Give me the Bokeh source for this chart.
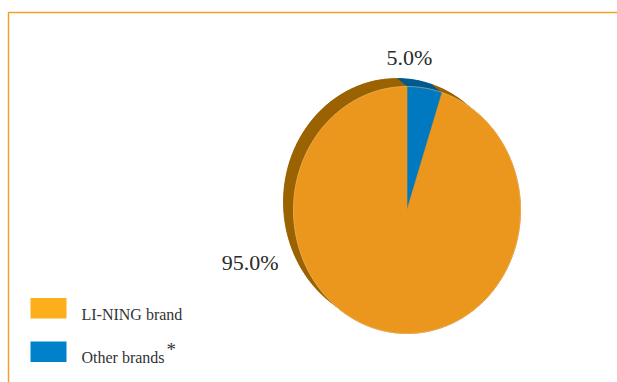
import numpy as np
from bokeh.plotting import figure
from bokeh.models import Range1d
from bokeh.core.properties import value
from bokeh.embed import file_html
from bokeh.resources import INLINE

# ---- data ----
categories = ["LI-NING brand", "Other brands"]
shares = [95.0, 5.0]
label_texts = ["95.0%", "5.0%"]

# ---- styles ----
front_colors = {"LI-NING brand": "#EB971E", "Other brands": "#0079C1"}
side_colors = {"LI-NING brand": "#9A6200", "Other brands": "#005A8E"}
legend_colors = {"LI-NING brand": "#FCAF1A", "Other brands": "#0082CB"}
FONT = value("Liberation Serif")

W, H = 617, 382
p = figure(width=W, height=H, x_range=Range1d(0, W), y_range=Range1d(H, 0),
           output_backend="svg", toolbar_location=None, min_border=0)
p.axis.visible = False
p.grid.visible = False
p.outline_line_color = None
p.background_fill_color = "white"
p.border_fill_color = "white"

# frame lines
p.line([8, 8, W], [H, 12, 12], line_color="#F4A024", line_width=1.5)

# pie geometry
cx, cy = 406.5, 209.5
rx, ry = 113.5, 123.5
dx, dy = -10.0, -8.0


def arc(t0, t1, ox=0.0, oy=0.0, n=120):
    t = np.linspace(t0, t1, max(3, int(n * (t1 - t0) / (2 * np.pi)) + 3))
    return cx + ox + rx * np.sin(t), cy + oy - ry * np.cos(t)


# slice angles: Other brands starts at 12 o'clock clockwise, then LI-NING
order = ["Other brands", "LI-NING brand"]
val = dict(zip(categories, shares))
total = sum(shares)
angles = {}
start = 0.0
for c in order:
    end = start + 2 * np.pi * val[c] / total
    angles[c] = (start, end)
    start = end

# back faces
for c in order:
    a0, a1 = angles[c]
    ax_, ay_ = arc(a0, a1, dx, dy)
    xs = np.concatenate([[cx + dx], ax_])
    ys = np.concatenate([[cy + dy], ay_])
    p.patch(xs, ys, fill_color=side_colors[c], line_color=side_colors[c], line_width=0.5)
# side bands
for c in order:
    a0, a1 = angles[c]
    fx, fy = arc(a0, a1)
    bx, by = arc(a0, a1, dx, dy)
    xs = np.concatenate([fx, bx[::-1]])
    ys = np.concatenate([fy, by[::-1]])
    p.patch(xs, ys, fill_color=side_colors[c], line_color=side_colors[c], line_width=0.5)
# front faces
for c in order:
    a0, a1 = angles[c]
    fx, fy = arc(a0, a1)
    xs = np.concatenate([[cx], fx])
    ys = np.concatenate([[cy], fy])
    p.patch(xs, ys, fill_color=front_colors[c], line_color=front_colors[c], line_width=0.6)
# light rim on the front face edge
fx, fy = arc(0, 2 * np.pi, n=240)
p.line(fx, fy, line_color="#F6C680", line_width=0.6, line_alpha=0.8)

# percentage labels
p.text(x=[278], y=[262], text=[label_texts[0]], text_font=FONT, text_font_size="22px",
       text_color="#2B2B2B", text_align="right", text_baseline="alphabetic")
p.text(x=[409], y=[57], text=[label_texts[1]], text_font=FONT, text_font_size="22px",
       text_color="#2B2B2B", text_align="center", text_baseline="alphabetic")

# legend
leg_y = [297.5, 341]
p.quad(left=[30, 30], right=[66, 66], top=leg_y, bottom=[y + 20.5 for y in leg_y],
       fill_color=[legend_colors[c] for c in categories], line_color=None)
p.text(x=[81, 81], y=[313.5, 356.5], text=categories, text_font=FONT, text_font_size="16px",
       text_color="#333333", text_baseline="alphabetic")
p.text(x=[166], y=[349], text=["*"], text_font=FONT, text_font_size="19px",
       text_color="#333333", text_baseline="alphabetic")

open("out.html", "w").write(file_html(p, INLINE))
